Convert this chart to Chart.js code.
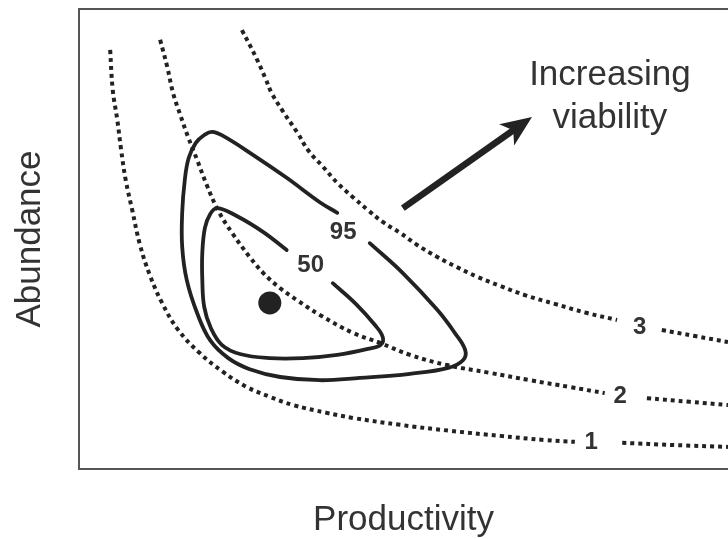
<!DOCTYPE html>
<html><head><meta charset="utf-8">
<script src="https://cdn.jsdelivr.net/npm/chart.js@4"></script>
<style>html,body{margin:0;padding:0;background:#fff;overflow:hidden}</style>
</head><body>
<canvas id="c" width="728" height="539"></canvas>
<script>
// Iso-viability curves (dotted); null marks the break where the label sits
const curve1X = [0.48,0.52,0.59,0.65,0.72,0.82,0.94,1.09,1.28,1.53,1.86,2.22,2.59,2.94,3.30,3.82,4.22,4.95,5.72,6.49,7.18,7.64,null,8.37,9.18,10.0];
const curve1Y = [9.11,8.24,7.59,6.93,6.28,5.63,4.87,4.22,3.61,3.02,2.52,2.11,1.78,1.57,1.39,1.22,1.11,0.96,0.83,0.72,0.63,0.59,null,0.57,0.52,0.48];
const curve2X = [1.25,1.36,1.45,1.56,1.68,1.82,1.97,2.14,2.36,2.63,2.84,3.10,3.36,3.71,4.22,4.64,5.10,5.67,6.33,6.95,7.57,8.10,null,8.75,9.41,10.0];
const curve2Y = [9.33,8.74,8.17,7.70,7.22,6.72,6.17,5.63,5.13,4.61,4.26,3.93,3.67,3.35,2.96,2.74,2.48,2.26,2.09,1.93,1.78,1.65,null,1.54,1.46,1.39];
const curve3X = [2.51,2.63,2.76,2.87,2.97,3.13,3.37,3.53,3.76,3.98,4.22,4.45,4.68,4.95,5.21,5.52,5.82,6.15,6.49,6.87,7.33,7.83,8.29,null,8.98,9.49,10.0];
const curve3Y = [9.54,9.22,8.85,8.50,8.17,7.80,7.30,6.93,6.57,6.22,5.91,5.63,5.37,5.13,4.87,4.61,4.39,4.17,3.98,3.78,3.59,3.39,3.24,null,3.02,2.89,2.76];
const curveLabels = ['1','2','3'];
const curveLabelX = [7.89, 8.34, 8.64];
const curveLabelY = [0.57, 1.57, 3.07];

// Confidence contours (solid), path opens at the label gap
const contour95X = [4.48,4.99,5.52,5.79,5.95,5.92,5.69,5.10,4.33,3.71,3.10,2.63,2.30,2.02,1.82,1.66,1.59,1.59,1.63,1.69,1.80,1.93,2.05,2.22,2.68,3.20,3.71,3.98];
const contour95Y = [4.91,4.26,3.46,2.96,2.59,2.37,2.20,2.07,1.98,1.93,2.00,2.17,2.41,2.80,3.39,4.11,4.83,5.57,6.28,6.76,7.09,7.26,7.33,7.24,6.83,6.33,5.80,5.57];
const contour50X = [3.91,4.28,4.56,4.68,4.65,4.45,3.98,3.45,2.94,2.48,2.20,2.03,1.93,1.90,1.90,1.94,2.02,2.13,2.43,2.84,3.20];
const contour50Y = [4.04,3.57,3.13,2.87,2.70,2.61,2.48,2.41,2.41,2.50,2.70,3.07,3.52,4.11,4.70,5.24,5.54,5.67,5.50,5.15,4.76];
const contourLabels = ['95','50'];
const contourLabelX = [4.07, 3.57];
const contourLabelY = [5.15, 4.43];

// Point estimate
const estimateX = [2.94];
const estimateY = [3.61];

// Arrow and note
const arrowX = [4.99, 6.98];
const arrowY = [5.67, 7.65];
const noteLines = ['Increasing', 'viability'];
const noteX = 8.18;
const noteY = [8.35, 7.41];

const FONT = "'Liberation Sans', Arial, sans-serif";
const INK = '#222';
const TEXT = '#333';

function segments(xs, ys) {
  const out = [[]];
  xs.forEach((xv, i) => {
    if (xv === null || ys[i] === null) { out.push([]); }
    else out[out.length - 1].push({x: xv, y: ys[i]});
  });
  return out.filter(s => s.length);
}
function pts(xs, ys) { return xs.map((xv, i) => ({x: xv, y: ys[i]})); }

const datasets = [];
[[curve1X, curve1Y], [curve2X, curve2Y], [curve3X, curve3Y]].forEach(([xs, ys]) => {
  segments(xs, ys).forEach(seg => datasets.push({
    data: seg, showLine: true, pointRadius: 0, borderColor: INK, borderWidth: 4,
    borderDash: [4, 4], tension: 0.4, fill: false
  }));
});
[[contour95X, contour95Y], [contour50X, contour50Y]].forEach(([xs, ys]) => {
  datasets.push({
    data: pts(xs, ys), showLine: true, pointRadius: 0, borderColor: INK, borderWidth: 3.8,
    tension: 0.4, fill: false, borderCapStyle: 'round', borderJoinStyle: 'round'
  });
});
datasets.push({
  data: pts(estimateX, estimateY), showLine: false, pointRadius: 11.5,
  backgroundColor: INK, borderColor: INK, borderWidth: 0
});

const annotate = {
  id: 'annotate',
  afterDatasetsDraw(chart) {
    const {ctx, scales: {x, y}} = chart;
    ctx.save();
    ctx.fillStyle = TEXT;
    ctx.font = "bold 24px " + FONT;
    ctx.textAlign = 'center';
    ctx.textBaseline = 'middle';
    curveLabels.forEach((t, i) => ctx.fillText(t, x.getPixelForValue(curveLabelX[i]), y.getPixelForValue(curveLabelY[i])));
    contourLabels.forEach((t, i) => ctx.fillText(t, x.getPixelForValue(contourLabelX[i]), y.getPixelForValue(contourLabelY[i])));
    const x0 = x.getPixelForValue(arrowX[0]), y0 = y.getPixelForValue(arrowY[0]);
    const x1 = x.getPixelForValue(arrowX[1]), y1 = y.getPixelForValue(arrowY[1]);
    const ang = Math.atan2(y1 - y0, x1 - x0);
    const headLen = 28, headW = 13;
    const bx = x1 - headLen * Math.cos(ang), by = y1 - headLen * Math.sin(ang);
    ctx.strokeStyle = INK; ctx.lineWidth = 6.5; ctx.lineCap = 'butt';
    ctx.beginPath(); ctx.moveTo(x0, y0);
    ctx.lineTo(bx + 6 * Math.cos(ang), by + 6 * Math.sin(ang)); ctx.stroke();
    ctx.fillStyle = INK;
    ctx.beginPath();
    ctx.moveTo(x1, y1);
    ctx.lineTo(bx - headW * Math.sin(ang) - 3 * Math.cos(ang), by + headW * Math.cos(ang) - 3 * Math.sin(ang));
    ctx.lineTo(bx + 5 * Math.cos(ang), by + 5 * Math.sin(ang));
    ctx.lineTo(bx + headW * Math.sin(ang) - 3 * Math.cos(ang), by - headW * Math.cos(ang) - 3 * Math.sin(ang));
    ctx.closePath(); ctx.fill();
    ctx.fillStyle = TEXT;
    ctx.font = "35px " + FONT;
    ctx.textAlign = 'center';
    ctx.textBaseline = 'alphabetic';
    noteLines.forEach((t, i) => ctx.fillText(t, x.getPixelForValue(noteX), y.getPixelForValue(noteY[i])));
    ctx.restore();
  }
};

const hiddenGrid = {display: false, drawTicks: false, tickLength: 0};

new Chart(document.getElementById('c'), {
  type: 'scatter',
  data: {datasets},
  options: {
    responsive: false,
    animation: false,
    devicePixelRatio: 1,
    layout: {autoPadding: false, padding: {top: 9, left: 0, right: 0, bottom: 0}},
    plugins: {legend: {display: false}, tooltip: {enabled: false}},
    scales: {
      x: {
        type: 'linear', position: 'bottom', min: 0, max: 10,
        ticks: {display: false}, grid: hiddenGrid,
        border: {display: true, color: '#555', width: 2},
        title: {display: true, text: 'Productivity', color: TEXT,
          font: {family: FONT, size: 35, lineHeight: 1}, padding: {top: 34, bottom: 1}}
      },
      y: {
        type: 'linear', position: 'left', min: 0, max: 10,
        ticks: {display: false}, grid: hiddenGrid,
        border: {display: true, color: '#555', width: 2},
        title: {display: true, text: 'Abundance', color: TEXT,
          font: {family: FONT, size: 35, lineHeight: 1}, padding: {top: 13, bottom: 31}}
      },
      x2: {
        type: 'linear', position: 'top', min: 0, max: 10,
        ticks: {display: false}, grid: hiddenGrid,
        border: {display: true, color: '#555', width: 2}
      }
    }
  },
  plugins: [annotate]
});
</script>
</body></html>
